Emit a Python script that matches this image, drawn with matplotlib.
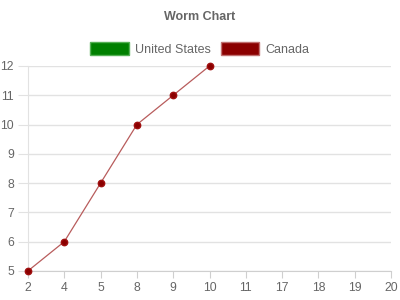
import numpy as np
import matplotlib.pyplot as plt
from matplotlib.patches import Patch

plt.rcParams['font.family'] = ['Liberation Sans', 'DejaVu Sans']

categories = ['2', '4', '5', '8', '9', '10', '11', '17', '18', '19', '20']
us_values = []
canada_values = [5, 6, 8, 10, 11, 12]
y_ticks = [5, 6, 7, 8, 9, 10, 11, 12]

fig = plt.figure(figsize=(4, 3), dpi=100)
ax = fig.add_axes([0.07, 0.097, 0.9075, 0.683])

x = np.arange(len(categories))
ax.plot(x[:len(us_values)], us_values, color='#008000', label='United States')
ax.plot(x[:len(canada_values)], canada_values, color='#b85c5c', lw=0.9,
        marker='o', ms=4.6, mfc='#8b0000', mec='#a01010', label='Canada',
        zorder=3, clip_on=False)

ax.set_xlim(0, len(categories) - 1)
ax.set_ylim(5, 12)
ax.set_xticks(x)
ax.set_xticklabels(categories)
ax.set_yticks(y_ticks)
ax.grid(axis='y', color='#e2e2e2', lw=1)
ax.set_axisbelow(True)
for s in ['top', 'right']:
    ax.spines[s].set_visible(False)
ax.spines['left'].set_color('#e2e2e2')
ax.spines['bottom'].set_color('#cfcfcf')
ax.tick_params(axis='x', colors='#cfcfcf', labelcolor='#666666', labelsize=8.8, length=5, pad=3)
ax.tick_params(axis='y', colors='#e2e2e2', labelcolor='#666666', labelsize=8.8, length=7, pad=3)

fig.text(0.5, 0.943, 'Worm Chart', ha='center', va='center', fontsize=9,
         fontweight='bold', color='#666666')

# legend boxes
handles = [Patch(facecolor='#008000', edgecolor='#55b055', label='United States'),
           Patch(facecolor='#8b0000', edgecolor='#c07070', label='Canada')]
fig.legend(handles=handles, loc='center', bbox_to_anchor=(0.5, 0.837), ncol=2,
           frameon=False, fontsize=9, labelcolor='#666666', handlelength=3.1,
           handleheight=1.2, handletextpad=0.5, columnspacing=0.75)

fig.savefig('out.png', dpi=100)
